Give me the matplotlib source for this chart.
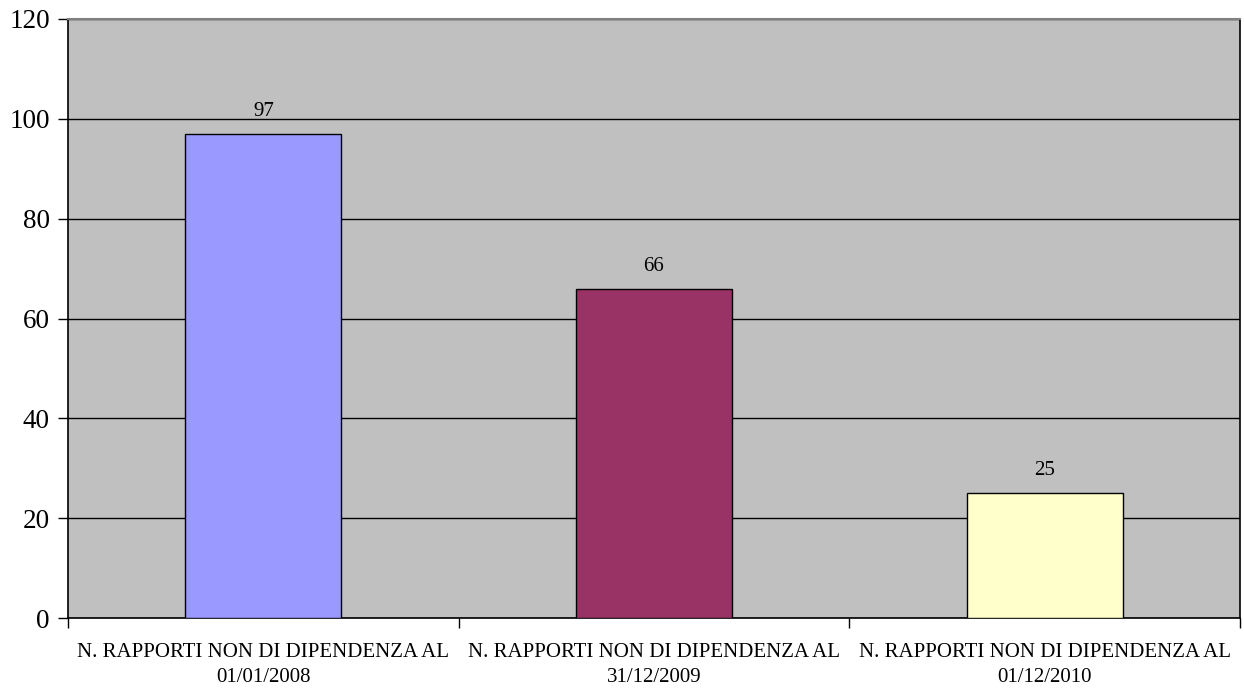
import matplotlib.pyplot as plt
import numpy as np

categories = ["N. RAPPORTI NON DI DIPENDENZA AL\n01/01/2008",
              "N. RAPPORTI NON DI DIPENDENZA AL\n31/12/2009",
              "N. RAPPORTI NON DI DIPENDENZA AL\n01/12/2010"]
values = [97, 66, 25]
colors = ["#9999FF", "#993366", "#FFFFCC"]
yticks = [0, 20, 40, 60, 80, 100, 120]

plt.rcParams['font.family'] = ['Liberation Serif', 'DejaVu Serif']

fig = plt.figure(figsize=(12.44, 6.91), dpi=100)
ax = fig.add_axes([68 / 1244, 73 / 691, (1240 - 68) / 1244, (618 - 19) / 691])
ax.set_facecolor("#C0C0C0")

x = np.arange(len(values))
bars = ax.bar(x, values, width=0.4, color=colors, edgecolor="black", linewidth=1, zorder=3)
for b, v in zip(bars, values):
    ax.text(b.get_x() + b.get_width() / 2, v + 2.6, str(v), ha="center", va="bottom",
            fontsize=15, zorder=4)

ax.set_xlim(-0.5, 2.5)
ax.set_ylim(0, 120)
ax.set_yticks(yticks)
ax.tick_params(axis="y", labelsize=19.5, length=7, width=1, direction="out", pad=6)
ax.yaxis.grid(True, color="black", linewidth=1, zorder=1)

ax.set_xticks(x)
ax.set_xticklabels(categories, fontsize=15, linespacing=1.45)
ax.tick_params(axis="x", which="major", length=0, pad=18)
ax.set_xticks([-0.5, 0.5, 1.5, 2.5], minor=True)
ax.tick_params(axis="x", which="minor", length=7, width=1, direction="out")

for s in ["left", "bottom", "right"]:
    ax.spines[s].set_color("black")
    ax.spines[s].set_linewidth(1.2)
ax.spines["top"].set_color("#808080")
ax.spines["top"].set_linewidth(1.5)

fig.savefig("out.png", dpi=100)
plt.close(fig)
